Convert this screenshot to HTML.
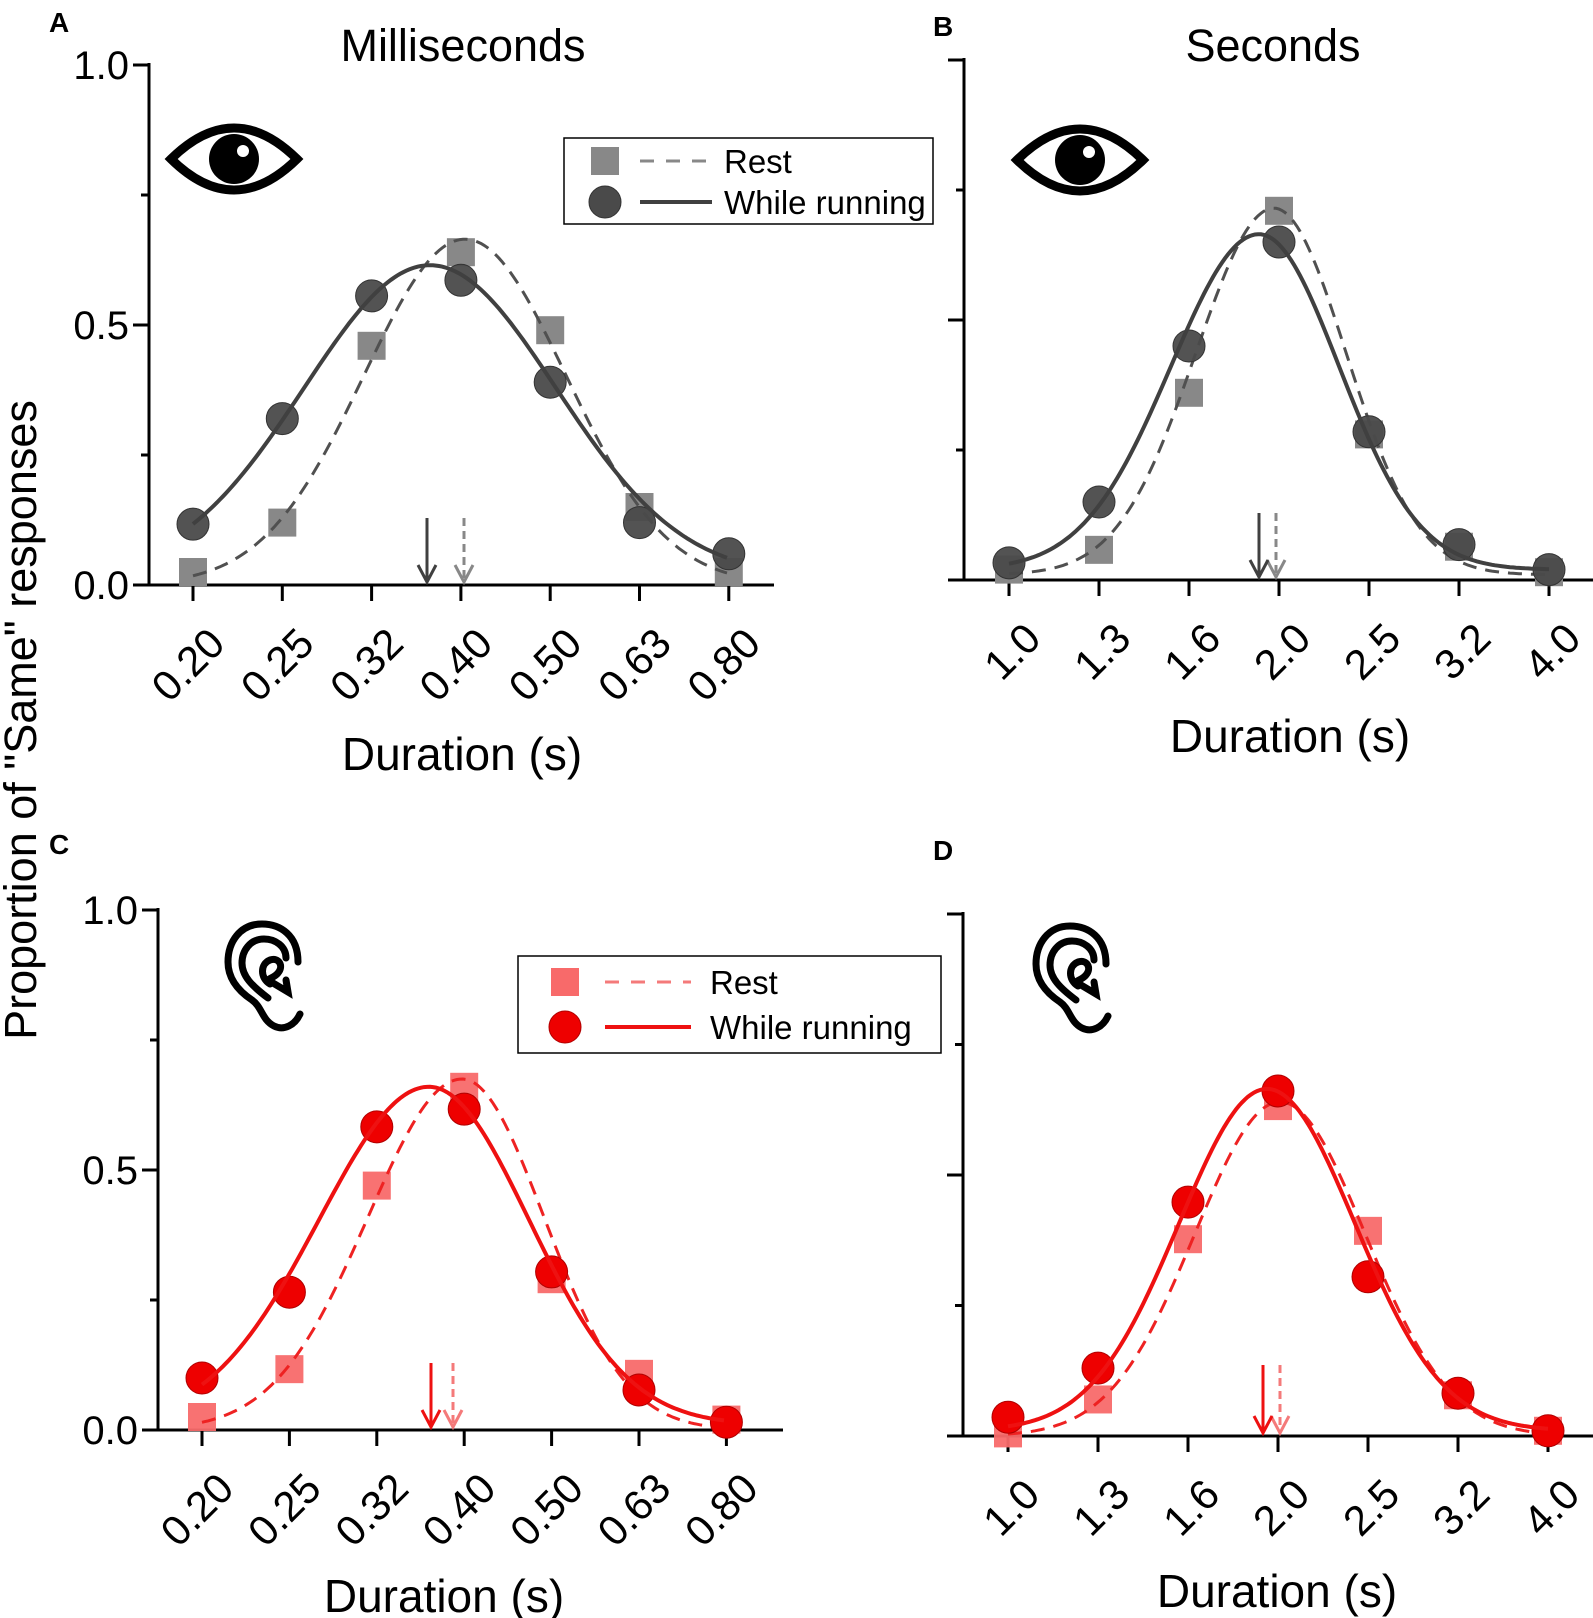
<!DOCTYPE html>
<html><head><meta charset="utf-8"><style>
html,body{margin:0;padding:0;background:#fff}
svg{display:block}
text{font-family:"Liberation Sans",Arial,sans-serif}
</style></head><body>
<svg id="s" width="1593" height="1618" viewBox="0 0 1593 1618" xmlns="http://www.w3.org/2000/svg">
<defs>
<g id="eye">
<path d="M-63,0 Q0,-62 63,0 Q0,62 -63,0 Z" fill="none" stroke="#000" stroke-width="9" stroke-linejoin="miter"/>
<circle cx="0" cy="0" r="25" fill="#000"/>
<circle cx="9" cy="-8" r="6" fill="#fff"/>
</g>
<g id="ear" fill="none" stroke="#000" stroke-width="7" stroke-linecap="round">
<path d="M98,62 C98,35 80,24 62,24 C40,24 28,42 28,62 C28,80 40,92 52,100 C62,107 62,120 74,126 C84,131 95,125 100,114"/>
<path d="M86,58 C86,46 75,39 64,39 C50,39 42,51 42,63 C42,76 52,86 68,98"/>
<path d="M70,84 C60,78 60,64 70,60 C79,57 84,66 78,73 C75,77 70,78 68,80 L88,92 L86,80"/>
</g>
</defs>
<g id="plots"></g>
<text x="49" y="32" font-size="28" font-weight="bold">A</text>
<text x="933" y="36" font-size="28" font-weight="bold">B</text>
<text x="49" y="854" font-size="28" font-weight="bold">C</text>
<text x="933" y="860" font-size="28" font-weight="bold">D</text>
<text x="463" y="61" font-size="45" text-anchor="middle">Milliseconds</text>
<text x="1273" y="61" font-size="45" text-anchor="middle">Seconds</text>
<text transform="translate(36,720) rotate(-90)" font-size="45" text-anchor="middle">Proportion of "Same" responses</text>
<use href="#eye" x="234" y="159"/>
<use href="#eye" x="1080" y="160"/>
<use href="#ear" x="200" y="900"/>
<use href="#ear" x="1008" y="902"/>
</svg>
<script>
const NS="http://www.w3.org/2000/svg";
const root=document.getElementById('plots');
function el(t,a,txt){const e=document.createElementNS(NS,t);for(const k in a)e.setAttribute(k,a[k]);if(txt!==undefined)e.textContent=txt;root.appendChild(e);return e;}
const panels=[
{ax:149,y0:585,sc:520,xr:774,t0:193,dt:89.3,labels:["0.20","0.25","0.32","0.40","0.50","0.63","0.80"],ylab:true,
 rest:[.025,.12,.46,.64,.49,.15,.025],run:[.117,.32,.556,.586,.39,.12,.06],
 sol:[430,126,.6,.015,126],das:[465,101,.665,0,101],arr:[427,464,518],dur:[462,770],red:false},
{ax:964,y0:580,sc:520,xr:1593,t0:1009,dt:90,labels:["1.0","1.3","1.6","2.0","2.5","3.2","4.0"],ylab:false,
 rest:[.02,.058,.36,.71,.28,.064,.015],run:[.033,.15,.45,.65,.285,.068,.02],
 sol:[1259,88,.645,.02,80],das:[1274,78,.705,.01,72],arr:[1259,1276,513],dur:[1290,752],red:false},
{ax:158,y0:1430,sc:520,xr:783,t0:202,dt:87.4,labels:["0.20","0.25","0.32","0.40","0.50","0.63","0.80"],ylab:true,
 rest:[.025,.117,.47,.66,.29,.108,.02],run:[.1,.265,.583,.617,.304,.077,.015],
 sol:[429,110,.65,.01,100],das:[462,94,.675,0,82],arr:[431,453,1363],dur:[444,1612],red:true},
{ax:963,y0:1436,sc:522,xr:1593,t0:1008,dt:90,labels:["1.0","1.3","1.6","2.0","2.5","3.2","4.0"],ylab:false,
 rest:[.005,.07,.377,.632,.393,.078,.01],run:[.036,.13,.448,.661,.305,.082,.01],
 sol:[1267,88,.655,.01,88],das:[1280,85,.64,0,85],arr:[1263,1280,1365],dur:[1277,1607],red:true}
];
for(const p of panels){
 const c=p.red?{rest:"#f86a6a",run:"#ee0000",line:"#ee1111",dl:"#ee2222",ra:"#f47a7a",stroke:"#b00000"}:{rest:"#888888",run:"#4a4a4a",line:"#404040",dl:"#505050",ra:"#888888",stroke:"#333"};
 const Y=v=>p.y0-v*p.sc;
 el('line',{x1:p.ax,y1:Y(1)-2,x2:p.ax,y2:p.y0+1.5,stroke:"#000","stroke-width":3});
 el('line',{x1:p.ax-16,y1:p.y0,x2:p.xr,y2:p.y0,stroke:"#000","stroke-width":3});
 [0,.25,.5,.75,1].forEach(v=>{const maj=(v*2)%1===0;el('line',{x1:p.ax-(maj?16:8),y1:Y(v),x2:p.ax,y2:Y(v),stroke:"#000","stroke-width":3});
  if(p.ylab&&maj)el('text',{x:p.ax-20,y:Y(v)+14,"font-size":40,"text-anchor":"end"},v.toFixed(1));});
 p.labels.forEach((l,i)=>{const x=p.t0+i*p.dt;el('line',{x1:x,y1:p.y0,x2:x,y2:p.y0+16,stroke:"#000","stroke-width":3});
  el('text',{transform:`translate(${x+34},${p.y0+61}) rotate(-45)`,"font-size":42,"text-anchor":"end"},l);});
 el('text',{x:p.dur[0],y:p.dur[1],"font-size":46,"text-anchor":"middle"},"Duration (s)");
 const curve=(g)=>{let d="";for(let x=p.t0;x<=p.t0+6*p.dt;x+=3){const s=x<g[0]?g[1]:g[4];const v=g[3]+g[2]*Math.exp(-((x-g[0])**2)/(2*s*s));d+=(d?"L":"M")+x.toFixed(1)+","+Y(v).toFixed(1);}return d;};
 p.rest.forEach((v,i)=>{const x=p.t0+i*p.dt;el('rect',{x:x-14,y:Y(v)-14,width:28,height:28,fill:c.rest,"fill-opacity":p.red?0.95:1});});
 el('path',{d:curve(p.das),fill:"none",stroke:c.dl,"stroke-width":3,"stroke-dasharray":"14,9"});
 p.run.forEach((v,i)=>{const x=p.t0+i*p.dt;el('circle',{cx:x,cy:Y(v),r:16,fill:c.run,stroke:c.stroke,"stroke-width":1,"fill-opacity":p.red?1:0.95});});
 el('path',{d:curve(p.sol),fill:"none",stroke:c.line,"stroke-width":4});
 const ar=(x,col,dash)=>{el('line',{x1:x,y1:p.arr[2],x2:x,y2:p.y0-6,stroke:col,"stroke-width":3,"stroke-dasharray":dash?"8,5":"none"});
  el('path',{d:`M${x-9},${p.y0-20} L${x},${p.y0-3} L${x+9},${p.y0-20}`,fill:"none",stroke:col,"stroke-width":3});};
 ar(p.arr[1],c.ra,true);ar(p.arr[0],c.line,false);
}
function legend(x1,y1,x2,y2,sx,sy1,sy2,lx1,lx2,tx,red){
 const c=red?{rest:"#f86a6a",run:"#ee0000",line:"#ee1111",dl:"#f47a7a",stroke:"#b00000"}:{rest:"#888888",run:"#4a4a4a",line:"#404040",dl:"#888888",stroke:"#333"};
 el('rect',{x:x1,y:y1,width:x2-x1,height:y2-y1,fill:"#fff",stroke:"#000","stroke-width":1.5});
 el('rect',{x:sx-14,y:sy1-14,width:28,height:28,fill:c.rest});
 el('circle',{cx:sx,cy:sy2,r:16,fill:c.run,stroke:c.stroke,"stroke-width":1});
 el('line',{x1:lx1,y1:sy1,x2:lx2,y2:sy1,stroke:c.dl,"stroke-width":3,"stroke-dasharray":"14,12"});
 el('line',{x1:lx1,y1:sy2,x2:lx2,y2:sy2,stroke:c.line,"stroke-width":4});
 el('text',{x:tx,y:sy1+12,"font-size":33},"Rest");
 el('text',{x:tx,y:sy2+12,"font-size":33},"While running");
}
legend(564,138,933,224,605,161,202,640,712,724,false);
legend(518,956,941,1053,565,982,1027,605,691,710,true);
</script>
</body></html>
